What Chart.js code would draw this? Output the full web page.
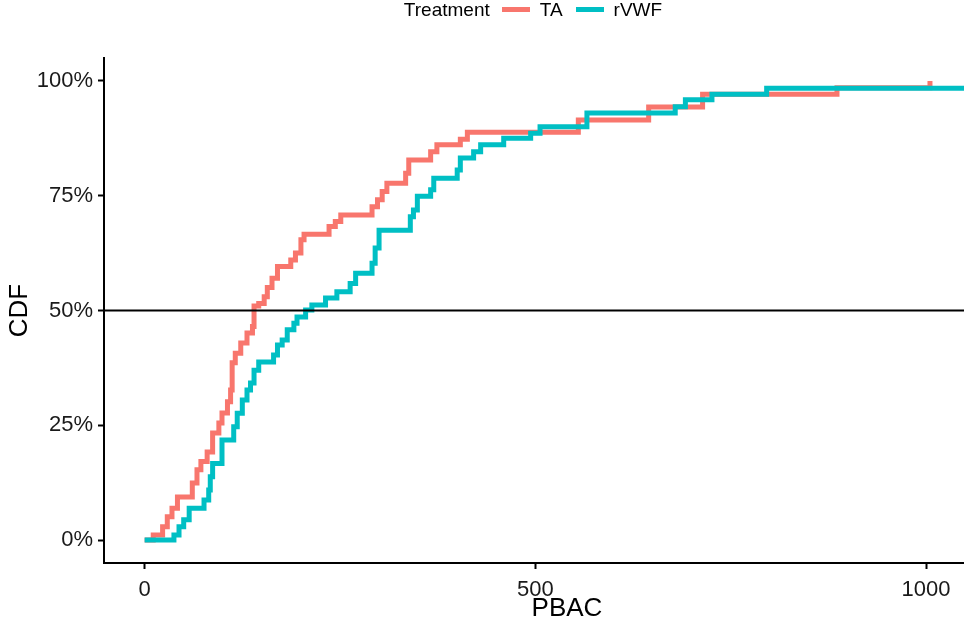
<!DOCTYPE html>
<html>
<head>
<meta charset="utf-8">
<script src="https://cdn.jsdelivr.net/npm/chart.js@4.4.1/dist/chart.umd.min.js"></script>
<style>
  html, body { margin: 0; padding: 0; background: #fff; overflow: hidden; }
  #wrap { position: relative; width: 1066px; height: 622px; }
  #legend {
    position: absolute; top: 0; left: 0; width: 1066px; height: 19px;
    display: flex; justify-content: center; align-items: center;
    font: 19px "Liberation Sans", Arial, sans-serif; color: #000;
  }
  #legend .sw { display: inline-block; width: 28px; height: 5px; margin: 0 10px 0 12px; }
</style>
</head>
<body>
<div id="wrap">
  <div id="legend">
    <span>Treatment</span>
    <span class="sw" style="background:#F8766D"></span><span>TA</span>
    <span class="sw" style="background:#00BFC4;margin-left:13px"></span><span>rVWF</span>
  </div>
  <canvas id="cdfChart" width="1066" height="622"></canvas>
</div>
<script>
// ==========================
// Data
// ==========================
const taPbac = [0, 11, 23, 29, 35, 42, 61, 67, 72, 80, 87, 95, 99, 106, 110, 112, 116, 123, 131, 138,
  140, 146, 153, 157, 163, 170, 187, 193, 200, 204, 236, 244, 251, 291, 298, 304, 310, 334, 338, 366,
  374, 404, 413, 555, 645, 714, 886, 1005];
const taCdf = [0, 0.011, 0.029, 0.051, 0.069, 0.094, 0.124, 0.153, 0.171, 0.192, 0.233, 0.255, 0.277,
  0.301, 0.327, 0.386, 0.407, 0.429, 0.451, 0.465, 0.51, 0.515, 0.53, 0.55, 0.57, 0.596, 0.61, 0.625,
  0.654, 0.666, 0.683, 0.694, 0.708, 0.726, 0.741, 0.759, 0.777, 0.799, 0.828, 0.846, 0.861, 0.873,
  0.888, 0.915, 0.943, 0.971, 0.985, 1.0];

const rvwfPbac = [0, 37.5, 44, 50, 57, 76, 82, 84, 87, 99, 114, 118.5, 125, 131, 135.5, 140, 146, 165,
  170, 176, 182.5, 191, 195, 206, 214, 231.5, 246, 263, 270, 291, 295, 300, 340, 344, 349, 366, 370,
  400, 404, 421, 430, 459.5, 494, 506, 566, 679, 692, 726, 796, 1080];
const rvwfCdf = [0, 0.011, 0.029, 0.044, 0.069, 0.087, 0.109, 0.138, 0.167, 0.218, 0.247, 0.276, 0.305,
  0.327, 0.342, 0.370, 0.388, 0.403, 0.425, 0.436, 0.458, 0.472, 0.486, 0.501, 0.512, 0.527, 0.541,
  0.559, 0.581, 0.603, 0.636, 0.675, 0.704, 0.719, 0.749, 0.763, 0.788, 0.806, 0.832, 0.846, 0.861,
  0.875, 0.886, 0.900, 0.930, 0.944, 0.959, 0.971, 0.984, 1.0];

const xTicks = [0, 500, 1000];
const xTickLabels = ["0", "500", "1000"];
const yTicks = [0, 0.25, 0.5, 0.75, 1];
const yTickLabels = ["0%", "25%", "50%", "75%", "100%"];
const refLine = 0.5;

const X_MIN = -52, X_MAX = 1133;

function toPoints(xs, ys) {
  return xs.map((x, i) => ({ x: x, y: ys[i] }));
}

function stepLine(label, xs, ys, color, order) {
  return {
    label: label,
    data: toPoints(xs, ys),
    borderColor: color,
    borderWidth: 5,
    stepped: "before",
    pointRadius: 0,
    borderCapStyle: "butt",
    borderJoinStyle: "miter",
    order: order
  };
}

// ==========================
// Chart
// ==========================
const axisFont = { family: "Liberation Sans", size: 22 };
const titleFont = { family: "Liberation Sans", size: 26 };
const tickGrid = { display: true, drawOnChartArea: false, drawTicks: true, tickLength: 6, tickWidth: 2, tickColor: "#000" };

const ctx = document.getElementById("cdfChart").getContext("2d");
new Chart(ctx, {
  type: "line",
  data: {
    datasets: [
      {
        label: "hline",
        data: [{ x: X_MIN, y: refLine }, { x: X_MAX, y: refLine }],
        borderColor: "#000",
        borderWidth: 2,
        pointRadius: 0,
        order: 0
      },
      stepLine("rVWF", rvwfPbac, rvwfCdf, "#00BFC4", 1),
      stepLine("TA", taPbac, taCdf, "#F8766D", 2)
    ]
  },
  options: {
    responsive: false,
    animation: false,
    devicePixelRatio: 1,
    layout: { padding: { left: 0, right: 36, top: 58, bottom: 0 } },
    plugins: { legend: { display: false }, tooltip: { enabled: false } },
    scales: {
      x: {
        type: "linear",
        min: X_MIN,
        max: X_MAX,
        afterFit: s => { s.height = 59; },
        afterBuildTicks: s => { s.ticks = xTicks.map(v => ({ value: v })); },
        grid: tickGrid,
        border: { display: true, color: "#000", width: 2 },
        ticks: {
          color: "#1a1a1a", padding: 8, font: axisFont, maxRotation: 0,
          callback: v => { const i = xTicks.indexOf(v); return i >= 0 ? xTickLabels[i] : ""; }
        },
        title: { display: true, text: "PBAC", color: "#000", font: titleFont, padding: { top: 0, bottom: -2 } }
      },
      y: {
        type: "linear",
        min: -0.05,
        max: 1.05,
        afterFit: s => { s.width = 104; },
        afterBuildTicks: s => { s.ticks = yTicks.map(v => ({ value: v })); },
        grid: tickGrid,
        border: { display: true, color: "#000", width: 2 },
        ticks: {
          color: "#1a1a1a", padding: 5, font: axisFont,
          callback: v => { const i = yTicks.indexOf(v); return i >= 0 ? yTickLabels[i] : ""; }
        },
        title: { display: true, text: "CDF", color: "#000", font: titleFont, padding: { top: 4, bottom: 0 } }
      }
    }
  }
});
</script>
</body>
</html>
